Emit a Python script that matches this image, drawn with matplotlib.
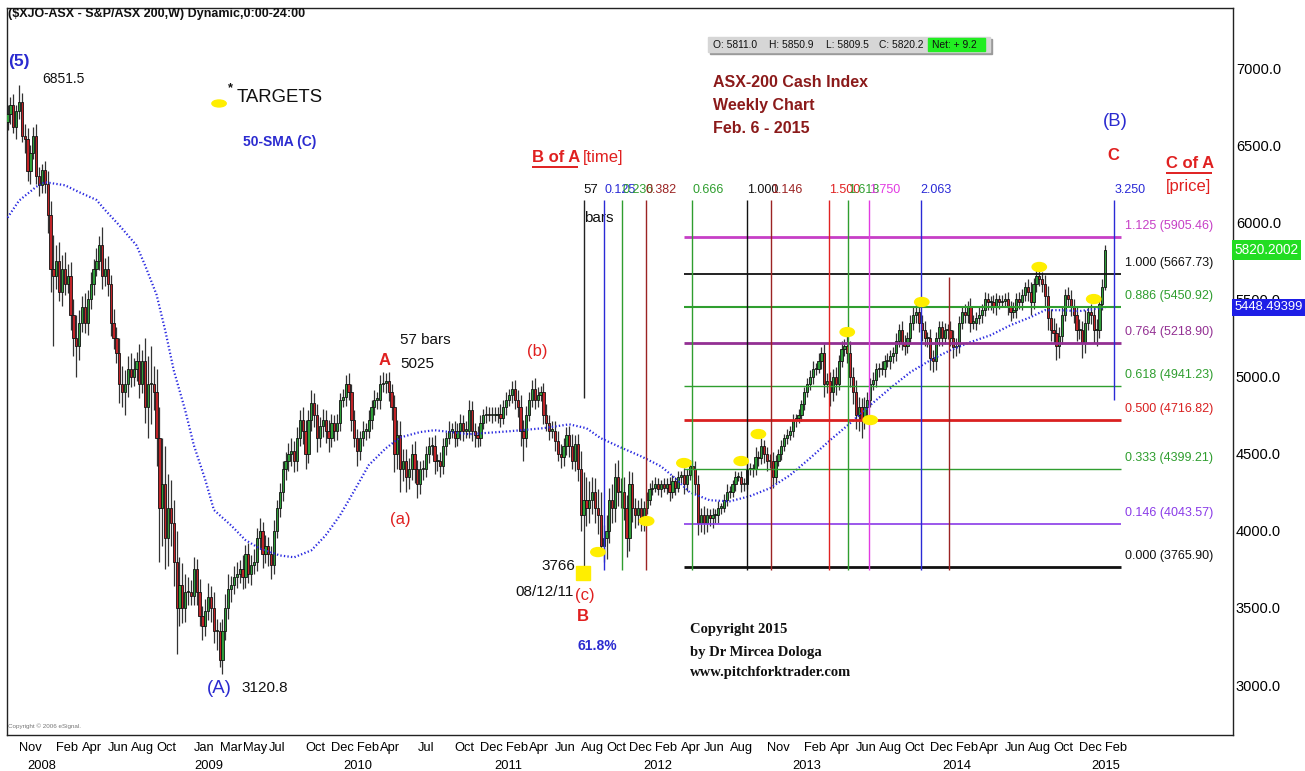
import matplotlib
matplotlib.use('Agg')
import matplotlib.pyplot as plt
import matplotlib.transforms as mtransforms
from matplotlib.patches import Ellipse, Rectangle
import numpy as np
import pandas as pd

# ---- weekly closes (Fridays, first bar 5 Oct 2007) ----
first_open = 6650
close_2007 = [6700, 6760, 6620, 6720, 6780, 6560, 6540, 6330, 6450, 6560, 6300, 6240, 6340]
close_2008 = [6250, 6050, 5700, 5650, 5750, 5550, 5700, 5600, 5650, 5400, 5250, 5200, 5350,
              5450, 5350, 5500, 5600, 5700, 5750, 5850, 5650, 5700, 5600, 5350, 5250, 5150,
              4950, 4900, 4950, 5050, 5000, 5050, 5100, 4950, 5100, 4800, 4950, 4950, 4900,
              4600, 4150, 4300, 3950, 4150, 4050, 3800, 3500, 3650, 3500, 3600, 3600, 3580]
close_2009 = [3750, 3600, 3450, 3380, 3480, 3570, 3500, 3350, 3350, 3160, 3350, 3500, 3620,
              3650, 3700, 3720, 3750, 3700, 3850, 3720, 3780, 3800, 3950, 4000, 3850, 3900,
              3850, 3780, 4000, 4150, 4250, 4400, 4450, 4500, 4520, 4450, 4600, 4720, 4650,
              4500, 4720, 4830, 4750, 4600, 4680, 4720, 4650, 4600, 4700, 4650, 4700, 4850]
close_2010 = [4870, 4950, 4900, 4720, 4600, 4520, 4600, 4650, 4650, 4720, 4800, 4850, 4850,
              4950, 4960, 4970, 4900, 4800, 4500, 4620, 4400, 4450, 4350, 4400, 4500, 4400,
              4300, 4400, 4400, 4500, 4550, 4550, 4450, 4450, 4420, 4550, 4600, 4650, 4650,
              4600, 4650, 4700, 4650, 4650, 4780, 4650, 4620, 4600, 4700, 4750, 4760, 4750, 4750]
close_2011 = [4750, 4760, 4730, 4800, 4850, 4880, 4920, 4850, 4800, 4650, 4600, 4750,
              4850, 4920, 4850, 4880, 4900, 4750, 4700, 4650, 4650, 4580, 4500, 4480, 4550,
              4620, 4550, 4450, 4560, 4400, 4100, 4200, 4150, 4200, 4250, 4150, 4100, 3900,
              3950, 4000, 4200, 4150, 4350, 4250, 4250, 4150, 3950, 4300, 4150, 4100, 4150, 4050]
close_2012 = [4150, 4200, 4270, 4280, 4300, 4270, 4300, 4280, 4300, 4250, 4320, 4280, 4350,
              4360, 4300, 4360, 4420, 4400, 4300, 4050, 4100, 4050, 4100, 4080, 4100, 4100,
              4150, 4150, 4200, 4250, 4250, 4300, 4350, 4350, 4300, 4300, 4400, 4400, 4400,
              4480, 4470, 4550, 4500, 4450, 4450, 4350, 4450, 4500, 4550, 4600, 4620, 4650]
close_2013 = [4720, 4730, 4750, 4820, 4900, 4950, 5000, 5050, 5050, 5100, 5150, 4950, 4970,
              4900, 5000, 4950, 5100, 5180, 5200, 5150, 5000, 4900, 4750, 4800, 4720, 4800,
              4850, 4950, 4980, 5050, 5050, 5050, 5100, 5100, 5130, 5150, 5230, 5300, 5220,
              5200, 5250, 5350, 5400, 5420, 5350, 5300, 5250, 5250, 5120, 5100, 5250, 5320]
close_2014 = [5250, 5300, 5300, 5250, 5190, 5200, 5350, 5420, 5400, 5450, 5350, 5350, 5380,
              5400, 5430, 5500, 5480, 5480, 5450, 5500, 5480, 5490, 5500, 5450, 5420, 5430,
              5500, 5480, 5530, 5580, 5550, 5480, 5600, 5650, 5630, 5600, 5520, 5380, 5300,
              5280, 5200, 5260, 5400, 5530, 5500, 5450, 5400, 5300, 5300, 5220, 5350, 5420]
close_2015 = [5400, 5300, 5300, 5470, 5580, 5820]

# wick lengths above / below the body, in index points
up_2007 = [60, 50, 70, 40, 110, 60, 80, 70, 50, 60, 80, 60, 40]
dn_2007 = [50, 60, 40, 80, 50, 40, 90, 60, 80, 40, 50, 70, 50]
up_2008 = [60, 80, 90, 220, 100, 120, 90, 110, 80, 90, 100, 150, 80, 70, 90, 60, 80,
           60, 80, 60, 120, 70, 80, 60, 90, 70, 100, 120, 90, 80, 100, 70, 60, 110, 70,
           150, 180, 250, 120, 150, 200, 300, 250, 220, 180, 150, 200, 180, 140, 120, 100, 80]
dn_2008 = [60, 120, 150, 450, 80, 60, 90, 70, 60, 100, 120, 200, 90, 60, 70, 80, 60,
           70, 50, 60, 80, 60, 80, 90, 70, 60, 120, 100, 150, 80, 70, 60, 80, 90, 60,
           100, 200, 260, 120, 180, 350, 250, 200, 180, 150, 160, 300, 120, 100, 90, 80, 60]
up_2009 = [80, 70, 90, 60, 80, 90, 70, 100, 80, 60, 80, 90, 100, 60, 70, 80, 60,
           90, 60, 70, 60, 80, 70, 80, 60, 70, 60, 50, 70, 50, 60, 50, 60, 70, 80,
           60, 70, 60, 80, 70, 60, 80, 60, 70, 60, 70, 60, 70, 60, 50, 60, 40]
dn_2009 = [60, 80, 70, 90, 60, 60, 90, 80, 120, 40, 90, 60, 70, 80, 60, 70, 60,
           80, 70, 60, 70, 60, 60, 70, 90, 60, 80, 90, 60, 50, 60, 60, 70, 60, 80,
           70, 60, 50, 90, 100, 60, 70, 80, 90, 60, 70, 80, 90, 60, 70, 60, 50]
up_2010 = [50, 60, 70, 50, 60, 60, 50, 60, 50, 60, 50, 60, 50, 60, 70, 50, 60, 50,
           80, 100, 90, 80, 80, 70, 60, 80, 60, 50, 60, 50, 60, 60, 70, 50, 60,
           50, 40, 60, 50, 60, 50, 60, 50, 60, 70, 60, 50, 60, 50, 40, 50, 40, 50]
dn_2010 = [50, 60, 50, 70, 60, 100, 60, 50, 60, 50, 60, 50, 60, 60, 50, 70, 60, 80,
           120, 100, 150, 80, 100, 80, 70, 90, 90, 60, 70, 50, 60, 60, 80, 60, 70,
           50, 60, 40, 50, 60, 50, 60, 70, 50, 50, 70, 80, 60, 50, 40, 50, 40, 50]
up_2011 = [50, 40, 60, 50, 50, 40, 50, 60, 60, 80, 70, 60, 50, 60, 70, 50, 40,
           60, 70, 50, 60, 60, 70, 60, 50, 50, 60, 80, 60, 70, 120, 180, 150, 120,
           100, 90, 120, 150, 90, 100, 80, 100, 90, 110, 90, 100, 80, 90, 80, 60, 50, 60]
dn_2011 = [40, 50, 60, 40, 50, 40, 50, 60, 60, 100, 150, 60, 40, 50, 60, 50, 40,
           60, 50, 60, 50, 60, 50, 70, 60, 60, 70, 50, 60, 80, 100, 335, 120, 100,
           90, 100, 120, 60, 100, 130, 80, 100, 90, 90, 100, 80, 120, 80, 90, 80, 60, 50]
up_2012 = [40, 50, 40, 50, 50, 40, 30, 40, 40, 50, 40, 30, 40, 30, 50, 40, 40,
           40, 50, 60, 50, 60, 50, 40, 50, 40, 40, 30, 40, 50, 40, 30, 40, 30, 40,
           40, 50, 40, 30, 60, 40, 50, 40, 40, 50, 60, 40, 30, 40, 30, 40, 30]
dn_2012 = [50, 40, 30, 40, 30, 40, 50, 30, 40, 60, 40, 50, 30, 40, 60, 40, 30,
           50, 60, 80, 60, 70, 60, 50, 60, 50, 50, 40, 30, 40, 40, 30, 40, 30, 50,
           40, 30, 40, 50, 40, 50, 40, 60, 60, 40, 70, 40, 30, 40, 30, 40, 30]
up_2013 = [40, 30, 40, 30, 30, 40, 40, 50, 40, 50, 40, 60, 50, 60, 50, 60, 40,
           50, 40, 60, 80, 60, 80, 70, 60, 70, 50, 40, 50, 40, 40, 50, 40, 50, 40,
           40, 50, 40, 60, 50, 40, 50, 60, 70, 60, 50, 60, 40, 60, 50, 40, 40]
dn_2013 = [40, 50, 30, 40, 40, 30, 40, 50, 40, 30, 50, 80, 60, 90, 60, 70, 40,
           40, 50, 60, 70, 80, 90, 100, 120, 60, 60, 50, 40, 50, 50, 40, 50, 40, 50,
           40, 50, 40, 50, 60, 50, 40, 50, 50, 60, 70, 50, 60, 80, 70, 60, 50]
up_2014 = [40, 50, 40, 60, 50, 50, 40, 40, 50, 40, 60, 50, 40, 50, 40, 50, 40,
           40, 50, 40, 30, 40, 40, 50, 40, 50, 40, 50, 40, 30, 50, 60, 40, 50, 60,
           50, 60, 70, 60, 80, 70, 60, 50, 40, 50, 60, 50, 60, 70, 60, 80, 40]
dn_2014 = [50, 40, 60, 50, 70, 60, 50, 40, 50, 50, 60, 40, 50, 40, 50, 40, 50,
           50, 40, 50, 40, 30, 40, 50, 60, 40, 50, 40, 50, 40, 60, 80, 40, 50, 40,
           50, 60, 80, 70, 60, 90, 80, 50, 40, 50, 60, 50, 70, 60, 100, 70, 50]
up_2015 = [50, 60, 70, 40, 50, 30]
dn_2015 = [60, 80, 100, 50, 40, 20]

closes = (close_2007 + close_2008 + close_2009 + close_2010 + close_2011
          + close_2012 + close_2013 + close_2014 + close_2015)
wick_up = up_2007 + up_2008 + up_2009 + up_2010 + up_2011 + up_2012 + up_2013 + up_2014 + up_2015
wick_dn = dn_2007 + dn_2008 + dn_2009 + dn_2010 + dn_2011 + dn_2012 + dn_2013 + dn_2014 + dn_2015

# 50-week SMA (bar number, value)
sma_bar = [0, 4, 10, 13, 20, 25, 31, 34, 39, 45, 48, 52, 55, 58, 62, 65, 69, 72, 78, 83,
           88, 95, 100, 106, 111, 116, 121, 126, 132, 137, 144, 149, 161, 175, 187, 196,
           202, 207, 214, 221, 228, 233, 238, 245, 252, 259, 266, 273, 280, 287, 294, 301,
           308, 315, 322, 329, 336, 343, 350, 357, 362, 367, 374, 383]
sma_value = [6030, 6140, 6230, 6260, 6240, 6195, 6145, 6080, 5980, 5850, 5720, 5530, 5300,
             5040, 4780, 4555, 4330, 4135, 4035, 3940, 3885, 3840, 3828, 3873, 3970, 4100,
             4260, 4425, 4535, 4605, 4640, 4652, 4626, 4645, 4665, 4690, 4665, 4600, 4540,
             4483, 4418, 4340, 4250, 4198, 4191, 4224, 4276, 4360, 4470, 4587, 4697, 4814,
             4924, 5028, 5106, 5171, 5223, 5268, 5333, 5385, 5430, 5430, 5424, 5448]

# Fibonacci price levels (C of A)
level_ratio = [1.125, 1.000, 0.886, 0.764, 0.618, 0.500, 0.333, 0.146, 0.000]
level_price = [5905.46, 5667.73, 5450.92, 5218.90, 4941.23, 4716.82, 4399.21, 4043.57, 3765.90]
level_color = ['#c63fc6', '#111111', '#2f9e2f', '#933093', '#2f9e2f', '#d92020', '#2f9e2f', '#8a3be8', '#111111']
level_width = [2.0, 1.3, 1.5, 2.0, 1.0, 2.0, 1.0, 1.2, 2.0]

# Fibonacci time ratios (B of A), unit = 57 bars from the 12 Aug 2011 low
time_base = '2011-08-12'
time_unit = 57
time_ratio = [0.125, 0.236, 0.382, 0.666, 1.000, 1.146, 1.500, 1.618, 1.750, 2.063, 2.236, 3.250]
time_label = ['0.125', '0.236', '0.382', '0.666', '1.000', '1.146', '1.500', '1.618', '1.750', '2.063', '', '3.250']
time_color = ['#2a2ad6', '#2f9e2f', '#9b2323', '#2f9e2f', '#111111', '#9b2323', '#e02222',
              '#2f9e2f', '#e23be2', '#2a2ad6', '#9b2323', '#2a2ad6']

# yellow target marks
target_date = ['2011-09-16', '2012-01-13', '2012-04-13', '2012-08-31', '2012-10-12',
               '2013-05-17', '2013-07-12', '2013-11-15', '2014-08-29', '2015-01-09']
target_price = [3862, 4063, 4439, 4452, 4627, 5288, 4718, 5483, 5710, 5502]

# axis labels
label_months = [(2007, 11), (2008, 2), (2008, 4), (2008, 6), (2008, 8), (2008, 10),
                (2009, 1), (2009, 3), (2009, 5), (2009, 7), (2009, 10), (2009, 12),
                (2010, 2), (2010, 4), (2010, 7), (2010, 10), (2010, 12),
                (2011, 2), (2011, 4), (2011, 6), (2011, 8), (2011, 10), (2011, 12),
                (2012, 2), (2012, 4), (2012, 6), (2012, 8), (2012, 11),
                (2013, 2), (2013, 4), (2013, 6), (2013, 8), (2013, 10), (2013, 12),
                (2014, 2), (2014, 4), (2014, 6), (2014, 8), (2014, 10), (2014, 12), (2015, 2)]
label_years = [2008, 2009, 2010, 2011, 2012, 2013, 2014, 2015]
price_ticks = [3000, 3500, 4000, 4500, 5000, 5500, 6000, 6500, 7000]

plt.rcParams['font.family'] = ['Liberation Sans', 'DejaVu Sans']

# ---- data prep ----
n = len(closes)
dates = pd.date_range('2007-10-05', periods=n, freq='W-FRI')
opens = [first_open] + closes[:-1]
highs = [max(o, c) + u for o, c, u in zip(opens, closes, wick_up)]
lows = [min(o, c) - d for o, c, d in zip(opens, closes, wick_dn)]
x = np.arange(n)

fig = plt.figure(figsize=(13.05, 7.71), dpi=100)
ax = fig.add_axes([7 / 1305, 36 / 771, 1226 / 1305, 727 / 771])
ax.set_xlim(-0.19, 427.6)
ax.set_ylim(2676, 7389)

# candles
ax.vlines(x, lows, highs, color='#333333', lw=0.9, zorder=2)
bottoms = [min(o, c) for o, c in zip(opens, closes)]
heights = [max(abs(c - o), 8) for o, c in zip(opens, closes)]
cols = ['#2f9e3a' if c >= o else '#c02428' for o, c in zip(opens, closes)]
ax.bar(x, heights, bottom=bottoms, width=0.78, color=cols, edgecolor='#111111', lw=0.6, zorder=3)

# 50 SMA
ax.plot(sma_bar, sma_value, color='#2a2ae0', lw=1.6, linestyle=(0, (0.6, 1.0)), zorder=4)

# price levels
x0, x1 = 236.0, 388.5
for r, p, c, w in zip(level_ratio, level_price, level_color, level_width):
    ax.hlines(p, x0, x1, color=c, lw=w, zorder=5)
    ax.text(389.9, p + 70, f'{r:.3f} ({p:.2f})', color=c, ha='left', va='center', fontsize=9)

# time lines
base = dates.get_loc(pd.Timestamp(time_base))
ax.vlines(base, 4860, 6144, color='#222222', lw=1.0, zorder=5)
ax.text(base, 6209, '57', color='#111111', ha='left', va='center', fontsize=9.5)
ax.text(base, 6030, 'bars', color='#111111', ha='left', va='center', fontsize=11)
for r, lab, c in zip(time_ratio, time_label, time_color):
    xp = base + r * time_unit
    top = 6144 if lab else 5645
    bot = 4850 if r > 3 else 3745
    ax.vlines(xp, bot, top, color=c, lw=1.0, zorder=5)
    if lab:
        ax.text(xp, 6209, lab, color=c, ha='left', va='center', fontsize=9)

# target marks
for d, p in zip(target_date, target_price):
    xi = dates.get_loc(pd.Timestamp(d))
    ax.add_patch(Ellipse((xi, p), 5.0, 58, color='#ffee00', zorder=6))
ax.add_patch(Rectangle((base - 2.6, 3681), 5.0, 92, color='#ffee00', zorder=6))

# axes look
for s in ax.spines.values():
    s.set_color('#222222')
    s.set_linewidth(1.0)
ax.yaxis.tick_right()
ax.set_yticks(price_ticks)
ax.set_yticklabels([f'{v:.1f}' for v in price_ticks], fontsize=10.5)
ax.tick_params(axis='y', length=0, pad=2)

month_idx = [int(np.argmax((dates.year == y) & (dates.month == m))) for y, m in label_months]
ax.set_xticks(month_idx)
ax.set_xticklabels([dates[i].strftime('%b') for i in month_idx], ha='left', fontsize=9.3)
ax.tick_params(axis='x', length=0, pad=5)
bt = mtransforms.blended_transform_factory(ax.transData, ax.transAxes)
for yr in label_years:
    xi = int(np.argmax(dates.year == yr))
    if yr == 2008:
        xi = 7
    ax.text(xi, -0.043, str(yr), transform=bt, ha='left', va='center', fontsize=9.3)

# right side value boxes
rt = mtransforms.blended_transform_factory(ax.transAxes, ax.transData)
ax.text(1.001, 5820, '5820.2002', transform=rt, color='white', ha='left', va='center', zorder=10,
        bbox=dict(boxstyle='square,pad=0.2', fc='#22dd22', ec='none'), clip_on=False, fontsize=9.8)
ax.text(1.001, 5450, '5448.49399', transform=rt, color='white', ha='left', va='center', zorder=10,
        bbox=dict(boxstyle='square,pad=0.2', fc='#1e1ee6', ec='none'), clip_on=False, fontsize=9.3)

# header and small print
ax.text(0.3, 7350, '($XJO-ASX - S&P/ASX 200,W) Dynamic,0:00-24:00', color='#111111',
        ha='left', va='center', fontsize=9, fontweight='bold')
ax.text(0.2, 2734, 'Copyright \u00a9 2006 eSignal.', color='#777777', ha='left', va='center', fontsize=4.5)

# OHLC strip
ax.add_patch(Rectangle((245.0, 7093), 98.5, 97, color='#9a9a9a', zorder=6))
ax.add_patch(Rectangle((244.4, 7104), 98.4, 97, color='#d6d6d6', zorder=7))
ax.add_patch(Rectangle((321.2, 7110), 19.9, 85, color='#22ee22', zorder=8))
for xp, s in [(246.2, 'O: 5811.0'), (265.7, 'H: 5850.9'), (285.6, 'L: 5809.5'),
              (304.1, 'C: 5820.2'), (322.6, 'Net: + 9.2')]:
    ax.text(xp, 7152, s, color='#111111', ha='left', va='center', zorder=9, fontsize=7.4)

# titles
for yp, s in zip([6909, 6760, 6605], ['ASX-200 Cash Index', 'Weekly Chart', 'Feb. 6 - 2015']):
    ax.text(246.2, yp, s, color='#8b1a1a', ha='left', va='center', fontsize=11.5, fontweight='bold')

# wave labels
red = '#e02020'
blue = '#2b2bd0'
ax.text(0.1, 7040, '(5)', color=blue, ha='left', va='center', fontsize=12.6, fontweight='bold')
ax.text(12.0, 6929, '6851.5', color='#111111', ha='left', va='center', fontsize=10)
ax.add_patch(Ellipse((73.8, 6770), 5.0, 45, color='#ffee00', zorder=6))
ax.text(77.0, 6870, '*', color='#111111', ha='left', va='center', fontsize=9.2, fontweight='bold')
ax.text(80.1, 6806, 'TARGETS', color='#111111', ha='left', va='center', fontsize=13.4)
ax.text(82.2, 6520, '50-SMA (C)', color=blue, ha='left', va='center', fontsize=10, fontweight='bold')
ax.text(69.6, 2980, '(A)', color=blue, ha='left', va='center', fontsize=13.4)
ax.text(81.5, 2980, '3120.8', color='#111111', ha='left', va='center', fontsize=11)
ax.text(131.4, 5107, 'A', color=red, ha='center', va='center', fontsize=12, fontweight='bold')
ax.text(136.9, 5237, '57 bars', color='#111111', ha='left', va='center', fontsize=11)
ax.text(136.9, 5081, '5025', color='#111111', ha='left', va='center', fontsize=11)
ax.text(136.9, 4070, '(a)', color=red, ha='center', va='center', fontsize=12)
ax.text(184.7, 5159, '(b)', color=red, ha='center', va='center', fontsize=12)
ax.text(198.0, 3771, '3766', color='#111111', ha='right', va='center', fontsize=11)
ax.text(197.7, 3603, '08/12/11', color='#111111', ha='right', va='center', fontsize=11)
ax.text(201.5, 3583, '(c)', color=red, ha='center', va='center', fontsize=12)
ax.text(200.8, 3441, 'B', color=red, ha='center', va='center', fontsize=12, fontweight='bold')
ax.text(205.7, 3253, '61.8%', color=blue, ha='center', va='center', fontsize=10, fontweight='bold')
ax.text(183.0, 6417, 'B of A', color=red, ha='left', va='center', fontsize=12, fontweight='bold')
ax.hlines(6355, 183.0, 199.0, color=red, lw=1.4)
ax.text(200.8, 6417, '[time]', color=red, ha='left', va='center', fontsize=12)
ax.text(386.4, 6656, '(B)', color=blue, ha='center', va='center', fontsize=13.4)
ax.text(385.7, 6430, 'C', color=red, ha='center', va='center', fontsize=12, fontweight='bold')
ax.text(404.2, 6384, 'C of A', color=red, ha='left', va='center', fontsize=12, fontweight='bold')
ax.hlines(6322, 404.2, 420.3, color=red, lw=1.4)
ax.text(404.2, 6229, '[price]', color=red, ha='left', va='center', fontsize=12)

for yp, s in zip([3357, 3214, 3078], ['Copyright 2015', 'by Dr Mircea Dologa', 'www.pitchforktrader.com']):
    ax.text(238.1, yp, s, color='#111111', ha='left', va='center',
            family='Liberation Serif', fontsize=10.5, fontweight='bold')

fig.savefig('out.png', dpi=100, facecolor='white')
